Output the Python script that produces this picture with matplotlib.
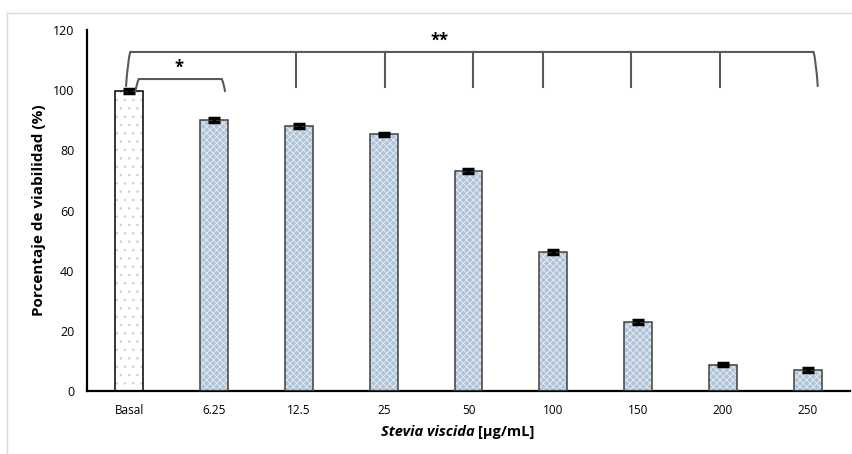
import matplotlib
matplotlib.use("Agg")
import matplotlib.pyplot as plt
from matplotlib.path import Path
from matplotlib.patches import PathPatch
from matplotlib.lines import Line2D
import numpy as np

categories = ["Basal", "6.25", "12.5", "25", "50", "100", "150", "200", "250"]
values = [99.7, 90.0, 88.0, 85.3, 73.2, 46.3, 23.0, 8.8, 7.0]
errors = [0.6, 0.6, 0.6, 0.6, 0.6, 0.6, 0.6, 0.6, 0.6]
yticks = [0, 20, 40, 60, 80, 100, 120]

plt.rcParams['font.family'] = ['Open Sans', 'DejaVu Sans']
plt.rcParams['hatch.linewidth'] = 0.6

W, H = 853, 454
fig = plt.figure(figsize=(W / 100, H / 100), dpi=100)
ax = fig.add_axes([87 / W, 1 - 391 / H, 763 / W, 361 / H])

x = np.arange(len(categories))
bw = 0.33

# Basal bar: white with sparse dots
ax.bar(x[0], values[0], width=bw, color='white', edgecolor='#cfcfcf', hatch='..', linewidth=0, zorder=2)
ax.bar(x[0], values[0], width=bw, color='none', edgecolor='black', linewidth=1.1, zorder=3)
# Treatment bars: blue-grey with fine white pattern
ax.bar(x[1:], values[1:], width=bw, color='#b0c4d7', edgecolor='#e8eef5', hatch='xxxxx', linewidth=0, zorder=2)
ax.bar(x[1:], values[1:], width=bw, color='none', edgecolor='#404040', linewidth=1.1, zorder=3)
ax.errorbar(x, values, yerr=errors, fmt='none', ecolor='black', elinewidth=2.5, capsize=4, capthick=2.5, zorder=4)

ax.set_xlim(-0.5, 8.5)
ax.set_ylim(0, 120)
ax.set_xticks(x)
ax.set_xticklabels(categories, fontsize=8.5)
ax.set_yticks(yticks)
ax.set_yticklabels([str(t) for t in yticks], fontsize=9)
ax.tick_params(axis='y', length=0, pad=9)
ax.tick_params(axis='x', length=0, pad=9)
for s in ['top', 'right']:
    ax.spines[s].set_visible(False)
for s in ['left', 'bottom']:
    ax.spines[s].set_linewidth(1.6)
    ax.spines[s].set_color('black')

ax.set_ylabel("Porcentaje de viabilidad (%)", fontsize=11, fontweight='bold', labelpad=5)

# x label in two parts
fig.text(475 / W, 1 - 432 / H, "Stevia viscida", fontsize=10.5, fontweight='bold', fontstyle='italic',
         ha='right', va='center')
fig.text(478 / W, 1 - 432 / H, "[µg/mL]", fontsize=10.5, fontweight='bold', ha='left', va='center')

# significance brackets
bc = '#5a5a5a'
def bracket(x0, x1, ytop, yl, yr, r=0.04, rh=2.0):
    verts = [(x0, yl), (x0 + r * 0.4, ytop - rh), (x0 + r, ytop), (x1 - r, ytop),
             (x1 - r * 0.4, ytop - rh), (x1, yr)]
    codes = [Path.MOVETO, Path.CURVE3, Path.CURVE3, Path.LINETO, Path.CURVE3, Path.CURVE3]
    ax.add_patch(PathPatch(Path(verts, codes), fill=False, edgecolor=bc, linewidth=1.5,
                           zorder=5, clip_on=False))

bracket(-0.04, 8.12, 112.7, 101.1, 101.1, r=0.05, rh=3)
for tx in [1.96, 3.01, 4.05, 4.88, 5.92, 6.97]:
    ax.add_line(Line2D([tx, tx], [112.7, 101.1], color=bc, linewidth=1.5, zorder=5))
bracket(0.07, 1.13, 103.7, 99.4, 99.4, r=0.04, rh=1.5)
ax.text(0.58, 107.5, "*", fontsize=12, fontweight='bold', ha='center', va='center')
ax.text(3.66, 116.3, "**", fontsize=12, fontweight='bold', ha='center', va='center')

# light grey chart-area border
fig.add_artist(Line2D([7.5 / W, 7.5 / W], [0, 1 - 13 / H], color='#d9d9d9', linewidth=1,
                      transform=fig.transFigure))
fig.add_artist(Line2D([7.5 / W, 1], [1 - 13 / H, 1 - 13 / H], color='#d9d9d9', linewidth=1,
                      transform=fig.transFigure))

fig.savefig("out.png", dpi=100)
